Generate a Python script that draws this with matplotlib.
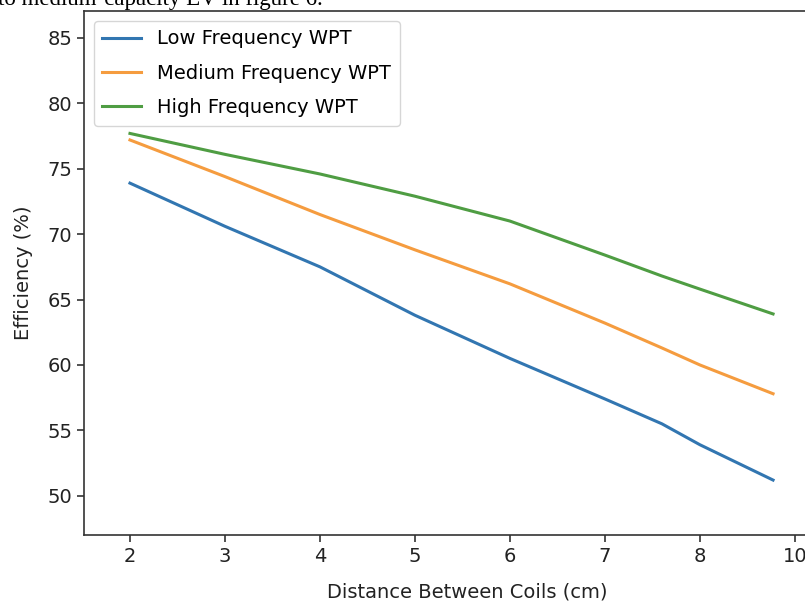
import matplotlib.pyplot as plt

# distance between coils (cm) where values were read
distancia = [2, 3, 4, 5, 6, 7, 7.6, 8, 8.77]
# efficiency (%) per frequency
baja = [73.9, 70.6, 67.5, 63.8, 60.5, 57.4, 55.5, 53.9, 51.2]
media = [77.2, 74.4, 71.5, 68.8, 66.2, 63.2, 61.3, 60.0, 57.8]
alta = [77.7, 76.1, 74.6, 72.9, 71.0, 68.4, 66.8, 65.8, 63.9]

x_ticks = [2, 3, 4, 5, 6, 7, 8, 9]
x_labels = ['2', '3', '4', '5', '6', '7', '8', '10']
y_ticks = [50, 55, 60, 65, 70, 75, 80, 85]

plt.rcParams['font.family'] = ['DejaVu Sans']
plt.rcParams['font.size'] = 14

fig = plt.figure(figsize=(8.05, 6.03), dpi=100)
ax = fig.add_axes([84/805, 68/603, 766/805, 524/603])

ax.plot(distancia, baja, color='#3276b1', lw=2.2, label='Low Frequency WPT')
ax.plot(distancia, media, color='#f59c3f', lw=2.2, label='Medium Frequency WPT')
ax.plot(distancia, alta, color='#4f9d43', lw=2.2, label='High Frequency WPT')

ax.set_xlim(1.516, 9.58)
ax.set_ylim(47.0, 87.06)
ax.set_xticks(x_ticks)
ax.set_xticklabels(x_labels)
ax.set_yticks(y_ticks)
ax.tick_params(length=5, width=1.1, labelsize=14, colors='#222222')
for s in ax.spines.values():
    s.set_linewidth(1.2)
    s.set_color('#333333')

ax.set_xlabel('Distance Between Coils (cm)', fontsize=14, color='#222222', labelpad=12)
ax.set_ylabel('Efficiency (%)', fontsize=14, color='#222222', labelpad=10)
ax.legend(loc='upper left', fontsize=14, borderaxespad=0.5, borderpad=0.45,
          labelspacing=0.78, handlelength=2.0)

# caption text of the page, cut at the top
fig.text(-0.003, 1 - 5/603, 'to medium-capacity EV in figure 6.', family='Liberation Serif',
         fontsize=16.5, va='baseline', ha='left')

fig.savefig('out.png', dpi=100)
